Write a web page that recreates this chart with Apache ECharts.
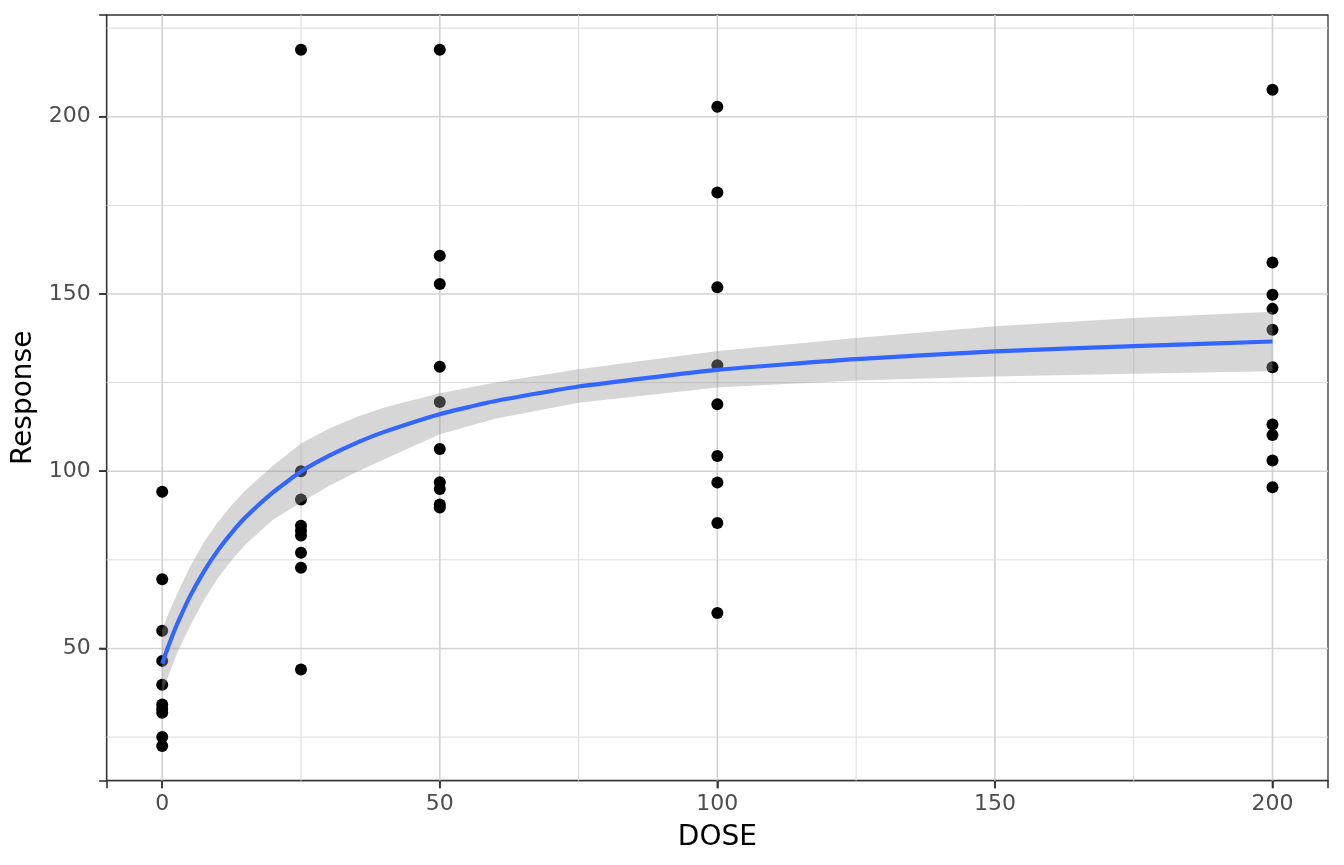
<!DOCTYPE html>
<html>
<head>
<meta charset="utf-8">
<script src="https://cdn.jsdelivr.net/npm/echarts@6/dist/echarts.min.js"></script>
<style>
html,body{margin:0;padding:0;background:#fff;}
#chart{width:1344px;height:865px;}
</style>
</head>
<body>
<div id="chart"></div>
<script>
// ---- observed responses by dose ----
const dose0   = [94.2, 69.5, 55.0, 46.5, 39.8, 34.2, 32.9, 31.9, 25.0, 22.5];
const dose25  = [218.9, 100.0, 92.0, 84.6, 83.2, 81.9, 77.0, 72.8, 44.1];
const dose50  = [218.9, 160.8, 152.8, 129.5, 119.5, 106.3, 96.9, 95.0, 90.6, 89.8];
const dose100 = [202.8, 178.6, 151.9, 129.9, 118.9, 104.3, 96.8, 85.4, 60.0];
const dose200 = [207.6, 158.9, 149.8, 145.8, 139.9, 129.3, 113.2, 110.2, 103.0, 95.5];
const doseLevels = [0, 25, 50, 100, 200];

// ---- fitted curve and confidence band ----
const curveDose = [0, 1, 2, 3, 5, 7.5, 10, 12.5, 15, 20, 25, 30, 35, 40, 50, 60, 75, 100, 125, 150, 175, 200];
const curveFit  = [45.7, 50.2, 54.3, 58.0, 64.7, 71.7, 77.6, 82.6, 87.0, 94.1, 99.9, 104.3, 108.0, 111.1, 116.1, 119.8, 123.9, 128.6, 131.6, 133.8, 135.3, 136.6];
const bandLower = [37.3, 41.8, 46.0, 49.8, 56.3, 63.6, 69.8, 74.9, 79.3, 86.4, 91.2, 95.8, 99.8, 103.4, 110.4, 114.8, 119.3, 123.6, 125.6, 126.7, 127.5, 128.2];
const bandUpper = [55.3, 59.3, 63.0, 66.5, 73.0, 80.0, 85.6, 90.4, 94.6, 101.6, 107.8, 112.0, 115.3, 118.0, 122.0, 125.0, 128.8, 133.9, 137.6, 140.9, 143.2, 145.0];

// ---- axes ----
const xTicks = [0, 50, 100, 150, 200];
const xMinor = [25, 75, 125, 175];
const yTicks = [50, 100, 150, 200];
const yMinor = [25, 75, 125, 175, 225];
const xRange = [-10, 210];
const yRange = [12.7, 228.7];

const doseGroups = [dose0, dose25, dose50, dose100, dose200];
const scatterData = [];
doseGroups.forEach((vals, i) => vals.forEach(v => scatterData.push([doseLevels[i], v])));
const pair = (xs, ys) => xs.map((x, i) => [x, ys[i]]);

const FONT = 'DejaVu Sans';
const TICK_LEN = 7.5;

// grid lines as plain line series on the value scales
const gridSeries = [];
const addGrid = (data, style) => gridSeries.push({
  type: 'line', data: data, showSymbol: false, symbol: 'none', silent: true, z: 0,
  lineStyle: style, emphasis: {disabled: true}
});
const majorStyle = {color: '#d3d3d3', width: 1.7};
const minorStyle = {color: '#dcdcdc', width: 1.0};
yMinor.forEach(v => addGrid([[xRange[0], v], [xRange[1], v]], minorStyle));
xMinor.forEach(v => addGrid([[v, yRange[0]], [v, yRange[1]]], minorStyle));
yTicks.forEach(v => addGrid([[xRange[0], v], [xRange[1], v]], majorStyle));
xTicks.forEach(v => addGrid([[v, yRange[0]], [v, yRange[1]]], majorStyle));

function renderBand(params, api) {
  const pts = [];
  for (let i = 0; i < curveDose.length; i++) pts.push(api.coord([curveDose[i], bandUpper[i]]));
  for (let i = curveDose.length - 1; i >= 0; i--) pts.push(api.coord([curveDose[i], bandLower[i]]));
  return {type: 'polygon', shape: {points: pts},
          style: {fill: 'rgba(153,153,153,0.4)', stroke: 'none'}, silent: true};
}

const chart = echarts.init(document.getElementById('chart'), null, {renderer: 'canvas'});
try {
  chart.setOption({
    animation: false,
    backgroundColor: '#ffffff',
    grid: {left: 106.7, right: 16, top: 15, bottom: 84.3, show: true,
           borderColor: '#333333', borderWidth: 1.3},
    xAxis: {
      type: 'value', min: xRange[0], max: xRange[1],
      name: 'DOSE', nameLocation: 'middle', nameGap: 43,
      nameTextStyle: {fontFamily: FONT, fontSize: 28, color: '#000000'},
      axisLine: {show: true, onZero: false, lineStyle: {color: '#333333', width: 1.3}},
      axisTick: {show: true, length: TICK_LEN, lineStyle: {color: '#333333', width: 1.6}},
      axisLabel: {customValues: xTicks, margin: 13, fontFamily: FONT, fontSize: 22, color: '#4d4d4d'},
      splitLine: {show: false}
    },
    yAxis: {
      type: 'value', min: yRange[0], max: yRange[1],
      name: 'Response', nameLocation: 'middle', nameGap: 62, nameRotate: 90,
      nameTextStyle: {fontFamily: FONT, fontSize: 28, color: '#000000'},
      axisLine: {show: true, onZero: false, lineStyle: {color: '#333333', width: 1.3}},
      axisTick: {show: true, length: TICK_LEN, lineStyle: {color: '#333333', width: 1.6}},
      axisLabel: {customValues: yTicks, margin: 16, fontFamily: FONT, fontSize: 22, color: '#4d4d4d'},
      splitLine: {show: false}
    },
    series: gridSeries.concat([
      {type: 'scatter', data: scatterData, symbol: 'circle', symbolSize: 12, z: 2, silent: true,
       itemStyle: {color: '#000000', opacity: 1}},
      {type: 'custom', renderItem: renderBand, data: [0], z: 3, silent: true},
      {type: 'line', data: pair(curveDose, curveFit), smooth: 0.15, showSymbol: false, symbol: 'none',
       lineStyle: {color: '#3366FF', width: 4.2}, z: 4, silent: true}
    ])
  });
} catch (e) {}

// tick marks placed through the chart's own scales (same as the axis ticks)
try {
  const tickGraphics = [];
  xTicks.forEach(v => {
    const p = chart.convertToPixel({gridIndex: 0}, [v, yRange[0]]);
    tickGraphics.push({type: 'rect', z: 100, silent: true,
      shape: {x: p[0] - 0.8, y: p[1], width: 1.6, height: TICK_LEN}, style: {fill: '#333333'}});
  });
  yTicks.forEach(v => {
    const p = chart.convertToPixel({gridIndex: 0}, [xRange[0], v]);
    tickGraphics.push({type: 'rect', z: 100, silent: true,
      shape: {x: p[0] - TICK_LEN, y: p[1] - 0.8, width: TICK_LEN, height: 1.6}, style: {fill: '#333333'}});
  });
  chart.setOption({graphic: {elements: tickGraphics}});
} catch (e) {}
</script>
</body>
</html>
